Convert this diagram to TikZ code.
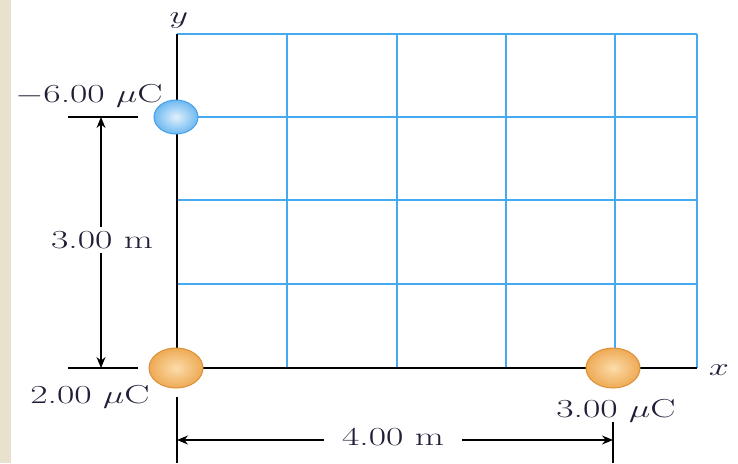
\documentclass[tikz,border=0pt]{standalone}
\usepackage{graphicx}
\usetikzlibrary{arrows.meta,shapes.geometric}
\definecolor{beige}{RGB}{232,225,205}
\definecolor{gridblue}{RGB}{70,170,240}
\definecolor{txtc}{RGB}{35,30,55}
\definecolor{bluein}{RGB}{225,240,252}
\definecolor{blueout}{RGB}{110,185,240}
\definecolor{blueedge}{RGB}{70,160,235}
\definecolor{orin}{RGB}{252,220,170}
\definecolor{orout}{RGB}{238,170,85}
\definecolor{oredge}{RGB}{220,145,55}
\newcommand{\hs}[1]{\scalebox{1.45}[1]{#1}}
\tikzset{
  gridline/.style={draw=gridblue, line width=1.8pt},
  axisline/.style={draw=black, line width=1.6pt},
  dimline/.style={draw=black, line width=1.2pt},
  dimarrow/.style={dimline, -{Stealth[length=11pt,width=9pt]}},
  lbl/.style={font=\fontsize{26}{30}\selectfont, text=txtc, inner sep=0pt, anchor=base},
  negcharge/.style={ellipse, draw=blueedge, line width=1pt, inner color=bluein, outer color=blueout, minimum width=44pt, minimum height=34pt, inner sep=0pt},
  poscharge/.style={ellipse, draw=oredge, line width=1pt, inner color=orin, outer color=orout, minimum width=54pt, minimum height=40pt, inner sep=0pt}
}
\begin{document}
\begin{tikzpicture}[x=1pt,y=-1pt]
\useasboundingbox (0,0) rectangle (738,463);
\fill[white] (0,0) rectangle (738,463);
\fill[beige] (0,0) rectangle (11,463);
% grid
\foreach \gx in {287,397,506,615,697} \draw[gridline] (\gx,34) -- (\gx,368);
\foreach \gy in {34,117,200,284} \draw[gridline] (177,\gy) -- (697,\gy);
% axes
\coordinate (O) at (177,368);
\coordinate (ytop) at (177,34);
\coordinate (xend) at (697,368);
\draw[axisline] (O) -- (ytop);
\draw[axisline] (O) -- (xend);
\node[lbl] (ylab) at (179,23) {\hs{$y$}};
\node[lbl] (xlab) at (719,375) {\hs{$x$}};
% charges
\node[negcharge] (q1) at (176,117) {};
\node[poscharge] (q2) at (176,368) {};
\node[poscharge] (q3) at (613,368) {};
\node[lbl] (l1) at (89,102) {\hs{$-$6.00 $\mu$C}};
\node[lbl] (l2) at (90,403) {\hs{2.00 $\mu$C}};
\node[lbl] (l3) at (616,417) {\hs{3.00 $\mu$C}};
% vertical dimension
\coordinate (t1a) at (68,117); \coordinate (t1b) at (138,117);
\coordinate (t2a) at (68,368); \coordinate (t2b) at (138,368);
\draw[dimline] (t1a) -- (t1b);
\draw[dimline] (t2a) -- (t2b);
\coordinate (vtop) at (101,117);
\coordinate (vbot) at (101,368);
\node[lbl, inner ysep=4pt] (d3) at (102,248) {\hs{3.00 m}};
\draw[dimarrow] (vtop |- d3.north) -- (vtop);
\draw[dimarrow] (vbot |- d3.south) -- (vbot);
% horizontal dimension
\coordinate (h1a) at (177,397); \coordinate (h1b) at (177,463);
\coordinate (h2a) at (613,422); \coordinate (h2b) at (613,463);
\draw[dimline] (h1a) -- (h1b);
\draw[dimline] (h2a) -- (h2b);
\coordinate (hl) at (177,440);
\coordinate (hr) at (613,440);
\node[lbl, inner xsep=18pt] (d4) at (393,445) {\hs{4.00 m}};
\draw[dimarrow] (d4.west |- hl) -- (hl);
\draw[dimarrow] (d4.east |- hr) -- (hr);
\end{tikzpicture}
\end{document}
